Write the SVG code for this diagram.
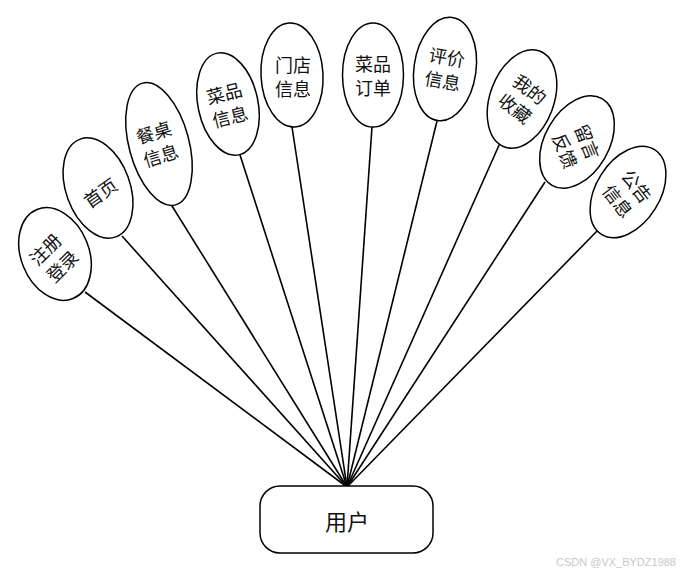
<svg xmlns="http://www.w3.org/2000/svg" width="687" height="578" viewBox="0 0 687 578">
<style>
.e{fill:#fff;stroke:#000;stroke-width:1.5}
.t{font-family:"Noto Sans CJK SC","Liberation Sans",sans-serif;font-size:18px;fill:#111;text-anchor:middle;dominant-baseline:central}
.c line{stroke:#000;stroke-width:1.6}
</style>
<rect width="687" height="578" fill="#fff"/>
<g id="connectors" class="c">
<line x1="347" y1="487" x2="85" y2="292"/>
<line x1="347" y1="487" x2="122" y2="236"/>
<line x1="347" y1="487" x2="172" y2="206"/>
<line x1="347" y1="487" x2="240" y2="155"/>
<line x1="347" y1="487" x2="292" y2="127"/>
<line x1="347" y1="487" x2="372" y2="127"/>
<line x1="347" y1="487" x2="437" y2="121"/>
<line x1="347" y1="487" x2="500" y2="143"/>
<line x1="347" y1="487" x2="545" y2="182"/>
<line x1="347" y1="487" x2="598" y2="230"/>
</g>
<g id="n1"><ellipse class="e" cx="55" cy="254" rx="34" ry="48" transform="rotate(-22 55 254)"/>
<g transform="translate(53 257) rotate(-45)"><text class="t" y="-12">注册</text><text class="t" y="12">登录</text></g></g>
<g id="n2"><ellipse class="e" cx="98" cy="188" rx="32" ry="52" transform="rotate(-20 98 188)"/>
<text class="t" transform="translate(100 192) rotate(-35)">首页</text></g>
<g id="n3"><ellipse class="e" cx="159" cy="144" rx="30" ry="63" transform="rotate(-15 159 144)"/>
<g transform="translate(157 143) rotate(-17)"><text class="t" y="-12">餐桌</text><text class="t" y="12">信息</text></g></g>
<g id="n4"><ellipse class="e" cx="228" cy="104" rx="30" ry="52" transform="rotate(-12 228 104)"/>
<g transform="translate(227 104) rotate(-14)"><text class="t" y="-12">菜品</text><text class="t" y="12">信息</text></g></g>
<g id="n5"><ellipse class="e" cx="292" cy="75" rx="31" ry="52" transform="rotate(-3 292 75)"/>
<g transform="translate(293 76)"><text class="t" y="-12">门店</text><text class="t" y="12">信息</text></g></g>
<g id="n6"><ellipse class="e" cx="373" cy="75" rx="30.5" ry="52"/>
<g transform="translate(373 75)"><text class="t" y="-12">菜品</text><text class="t" y="12">订单</text></g></g>
<g id="n7"><ellipse class="e" cx="445" cy="69" rx="31" ry="52" transform="rotate(8 445 69)"/>
<g transform="translate(445 68) rotate(10)"><text class="t" y="-12">评价</text><text class="t" y="12">信息</text></g></g>
<g id="n8"><ellipse class="e" cx="522" cy="99" rx="32" ry="51" transform="rotate(20 522 99)"/>
<g transform="translate(523 98) rotate(38)"><text class="t" y="-12">我的</text><text class="t" y="12">收藏</text></g></g>
<g id="n9"><ellipse class="e" cx="577" cy="142" rx="32" ry="50" transform="rotate(30 577 142)"/>
<g transform="translate(577 146) rotate(68)"><text class="t" y="-12">留言</text><text class="t" y="12">反馈</text></g></g>
<g id="n10"><ellipse class="e" cx="628" cy="192" rx="32" ry="50" transform="rotate(32 628 192)"/>
<g transform="translate(628 193) rotate(52)"><text class="t" y="-12">公告</text><text class="t" y="12">信息</text></g></g>
<g id="user"><rect x="260" y="486" width="173" height="67" rx="20" ry="20" fill="#fff" stroke="#000" stroke-width="1.5"/>
<text class="t" x="347" y="520" style="font-size:22px">用户</text></g>
<text x="616" y="566" style="font-family:'Liberation Sans',sans-serif;font-size:11px;fill:#c8c8c8;text-anchor:middle">CSDN @VX_BYDZ1988</text>
</svg>
